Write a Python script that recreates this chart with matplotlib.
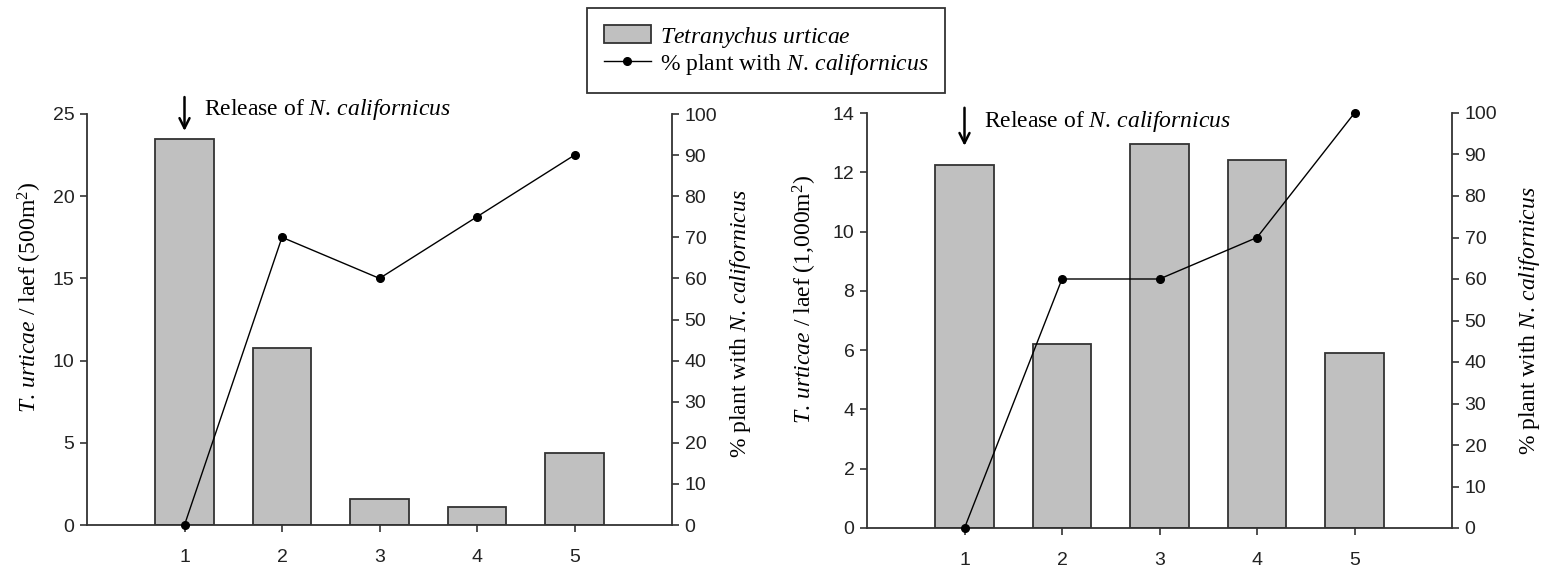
import matplotlib
matplotlib.use("Agg")
import matplotlib.pyplot as plt
from matplotlib.patches import Patch
from matplotlib.lines import Line2D

plt.rcParams['mathtext.fontset'] = 'custom'
plt.rcParams['mathtext.rm'] = 'Liberation Serif'
plt.rcParams['mathtext.it'] = 'Liberation Serif:italic'

samples = [1, 2, 3, 4, 5]
mites_500 = [23.5, 10.75, 1.6, 1.1, 4.4]
pct_500 = [0, 70, 60, 75, 90]
mites_1000 = [12.25, 6.2, 12.95, 12.4, 5.9]
pct_1000 = [0, 60, 60, 70, 100]

left_ylabels = [r'$\mathit{T.\,urticae}$ / laef (500m$^2$)',
                r'$\mathit{T.\,urticae}$ / laef (1,000m$^2$)']
right_ylabel = r'% plant with $\mathit{N.\,californicus}$'
release_text = r'Release of $\mathit{N.\,californicus}$'
legend_bar = r'$\mathit{Tetranychus\ urticae}$'

fig = plt.figure(figsize=(15.43, 5.66), dpi=100)
W, H = 1543, 566

SERIF = 'Liberation Serif'
SANS = 'Liberation Sans'
TICKC = '#222222'
SPC = '#333333'
TFS = 17
KFS = 14

panels = [
    dict(box=(87, 525, 672, 114), bars=mites_500, pct=pct_500, ymax=25, yticks=range(0, 26, 5),
         lab=left_ylabels[0], arrow=(26.2, 23.8), txt_y=25.25, lp=(6, 8), ly=(0.555, 0.49)),
    dict(box=(867, 528, 1452, 113), bars=mites_1000, pct=pct_1000, ymax=14, yticks=range(0, 15, 2),
         lab=left_ylabels[1], arrow=(14.27, 12.8), txt_y=13.7, lp=(10, 14), ly=(0.55, 0.5)),
]

for p in panels:
    x0, yb, x1, yt = p['box']
    ax = fig.add_axes([x0 / W, 1 - yb / H, (x1 - x0) / W, (yb - yt) / H])
    ax.bar(samples, p['bars'], width=0.6, color='#c0c0c0', edgecolor=SPC, linewidth=1.3, zorder=2)
    ax.set_xlim(0, 6)
    ax.set_ylim(0, p['ymax'])
    ax.set_yticks(list(p['yticks']))
    ax.set_xticks(samples)
    for s in ['top', 'right']:
        ax.spines[s].set_visible(False)
    for s in ['left', 'bottom']:
        ax.spines[s].set_color(SPC)
        ax.spines[s].set_linewidth(1.3)
    ax.tick_params(direction='out', length=5, width=1.2, color=SPC, labelsize=KFS,
                   labelcolor=TICKC, pad=4)
    ax.tick_params(axis='x', pad=12)
    for lbl in ax.get_xticklabels() + ax.get_yticklabels():
        lbl.set_fontfamily(SANS)
    ax.set_ylabel(p['lab'], fontfamily=SERIF, fontsize=TFS, labelpad=p['lp'][0])
    ax.yaxis.label.set_y(p['ly'][0])

    ax2 = ax.twinx()
    ax2.plot(samples, p['pct'], color='black', linewidth=1.0, marker='o', markersize=5.5,
             clip_on=False, zorder=5)
    ax2.set_ylim(0, 100)
    ax2.set_yticks(range(0, 101, 10))
    for s in ['top', 'left', 'bottom']:
        ax2.spines[s].set_visible(False)
    ax2.spines['right'].set_color(SPC)
    ax2.spines['right'].set_linewidth(1.3)
    ax2.tick_params(direction='out', length=5, width=1.2, color=SPC, labelsize=KFS,
                    labelcolor=TICKC, pad=4)
    for lbl in ax2.get_yticklabels():
        lbl.set_fontfamily(SANS)
    ax2.set_ylabel(right_ylabel, fontfamily=SERIF, fontsize=TFS, labelpad=p['lp'][1])
    ax2.yaxis.label.set_y(p['ly'][1])

    ax.annotate('', xy=(1, p['arrow'][1]), xytext=(1, p['arrow'][0]),
                arrowprops=dict(arrowstyle='->', color='black', lw=1.8, mutation_scale=18),
                annotation_clip=False, zorder=6)
    ax.text(1.2, p['txt_y'], release_text, fontfamily=SERIF, fontsize=TFS, va='center',
            ha='left', clip_on=False)

handles = [Patch(facecolor='#c0c0c0', edgecolor=SPC, linewidth=1.3),
           Line2D([0], [0], color='black', lw=1.0, marker='o', markersize=5.5)]
labels = [legend_bar, right_ylabel]
leg = fig.legend(handles, labels, loc='upper left', bbox_to_anchor=(587 / W, 1 - 8 / H),
                 frameon=True, fancybox=False, edgecolor='#333333', framealpha=1,
                 prop={'family': SERIF, 'size': TFS}, handlelength=2.0, handleheight=0.8,
                 borderpad=0.7, labelspacing=0.1, handletextpad=0.4, borderaxespad=0)
leg.get_frame().set_linewidth(1.3)

fig.savefig('out.png', dpi=100)
